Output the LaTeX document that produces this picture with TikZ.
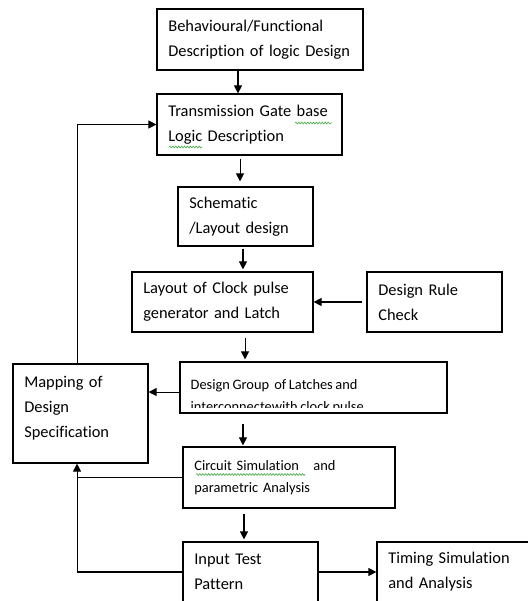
\documentclass[tikz,border=0pt]{standalone}
\usepackage{fontspec}
\setmainfont{Carlito}[Ligatures=NoCommon,WordSpace=0.8]
\usetikzlibrary{arrows.meta,positioning,decorations.pathmorphing}
\definecolor{spellgreen}{RGB}{70,170,70}

\newcommand\bigtxt{\fontsize{12.3}{18.75}\selectfont}
\newcommand\smalltxt{\fontsize{10.8}{16.5}\selectfont}

\begin{document}
\begin{tikzpicture}[x=0.75pt,y=-0.75pt,
  box/.style={draw,line width=0.9pt,align=left,inner xsep=8.5pt,inner ysep=0pt,font=\bigtxt},
  arr/.style={line width=0.8pt,-{Triangle[length=6pt,width=6pt]}},
  link/.style={line width=0.8pt},
  spell/.style={spellgreen,line width=0.45pt,decorate,decoration={snake,amplitude=0.7pt,segment length=2.2pt}}]
\clip (0,0) rectangle (528,601);

\node[box,text width=137.5pt,minimum height=45.75pt] (behav) at (260,39.5)
  {Behavioural/Functional\\Description of logic Design};
\node[box,text width=121.75pt,minimum height=45.75pt] (trans) at (249.5,124.5)
  {Transmission Gate base\\Logic Description};
\node[box,text width=84.25pt,minimum height=44.25pt] (schem) at (245.5,216.5)
  {Schematic\\/Layout design};
\node[box,text width=118.75pt,minimum height=45pt] (layout) at (222.5,302)
  {Layout of Clock pulse\\generator and Latch};
\node[box,text width=84.25pt,minimum height=45pt] (drc) at (434.5,302)
  {Design Rule\\Check};
\node[box,minimum width=200.25pt,minimum height=38.25pt] (group) at (313.5,387.5) {};
\node[box,text width=84.25pt,minimum height=74.25pt] (mapping) at (80.5,413.5)
  {Mapping of\\Design\\Specification\rule[-10pt]{0pt}{10pt}};
\node[box,font=\smalltxt,text width=142pt,minimum height=45.75pt] (circuit) at (289,477.5)
  {Circuit Simulation\ \ \ and\\parametric Analysis};
\node[box,text width=84.25pt,minimum height=45pt] (input) at (250.5,572)
  {Input Test\\Pattern};
\node[box,text width=105.25pt,minimum height=45pt] (timing) at (458.5,572)
  {Timing Simulation\\and Analysis};

% text of the group box runs past its lower edge
\begin{scope}
  \clip (group.north west) rectangle ([yshift=4.7pt]group.south east);
  \node[anchor=west,inner sep=0pt,align=left,font=\smalltxt] (grouptxt)
    at ([xshift=8.25pt,yshift=-6.9pt]group.west)
    {Design Group\ \ of Latches and\\interconnectewith clock pulse};
\end{scope}

% spelling squiggles
\draw[spell] (295,123) -- (332,123);
\draw[spell] (169,147) -- (202,147);
\draw[spell] (196,474.5) -- (305,474.5);

\coordinate (fb) at ([xshift=-2.6pt]mapping.south);

\draw[arr] ([xshift=-16.5pt]behav.south) -- ([xshift=-16.5pt]behav.south |- trans.north);
\draw[arr,shorten >=3.75pt] ([xshift=-7.1pt,yshift=-2.25pt]trans.south) -- ([xshift=-7.1pt]trans.south |- schem.north);
\draw[arr,shorten >=1.5pt] ([xshift=-1.9pt,yshift=-1.5pt]schem.south) -- ([xshift=-1.9pt]schem.south |- layout.north);
\draw[arr,shorten >=1.5pt] ([xshift=16.9pt,yshift=-3.75pt]layout.south) -- ([xshift=16.9pt]layout.south |- group.north);
\draw[arr,shorten >=0.75pt] ([xshift=-52.9pt,yshift=-7.5pt]group.south) -- ([xshift=-52.9pt]group.south |- circuit.north);
\draw[arr,shorten >=1.5pt] ([xshift=-33.75pt,yshift=-3.75pt]circuit.south) -- ([xshift=-33.75pt]circuit.south |- input.north);
\draw[arr,shorten <=3pt] (drc.west) -- (layout.east);
\draw[arr] ([yshift=-3.4pt]group.west) -- ([yshift=-3.4pt]group.west -| mapping.east);
\draw[arr] (input.east) -- (timing.west);
\draw[arr] (mapping.north -| fb) |- (trans.west);
\draw[arr] (input.west) -| (fb);
\draw[link] (circuit.west) -- (circuit.west -| fb);
\end{tikzpicture}
\end{document}
